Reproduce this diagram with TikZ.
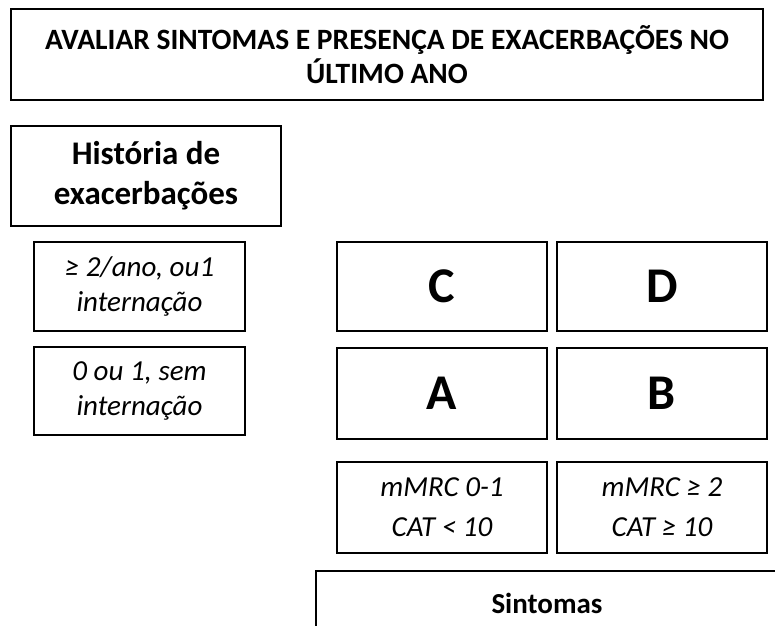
\documentclass[tikz,border=0pt]{standalone}
\usepackage{fontspec}
\setmainfont{Carlito}
\begin{document}
\begin{tikzpicture}[x=1pt,y=-1pt,
  box/.style={draw=black,line width=2pt,align=center,inner sep=0pt},
  title/.style={box,font=\fontsize{29.5}{34}\selectfont\bfseries},
  hist/.style={box,font=\fontsize{33}{40}\selectfont\bfseries},
  crit/.style={box,font=\fontsize{29}{35}\selectfont\itshape},
  grp/.style={box,font=\fontsize{50}{52}\selectfont\bfseries},
  symp/.style={box,font=\fontsize{29}{40}\selectfont\itshape},
  lbl/.style={font=\fontsize{29}{32}\selectfont\bfseries}]
\useasboundingbox (0,0) rectangle (775,625);
\clip (0,0) rectangle (775,625);
\node[title,minimum width=752pt,minimum height=91pt] (top) at (387,54.5)
  {AVALIAR SINTOMAS E PRESENÇA DE EXACERBAÇÕES NO\\ÚLTIMO ANO};
\node[hist,minimum width=270pt,minimum height=100pt] (hist) at (146,176)
  {História de\\exacerbações};
\node[crit,minimum width=211pt,minimum height=89pt] (ex1) at (139.5,286.5)
  {≥ 2/ano, ou1\\internação};
\node[crit,minimum width=211pt,minimum height=88pt] (ex0) at (139.5,391)
  {0 ou 1, sem\\internação};
\node[grp,minimum width=210pt,minimum height=89pt] (C) at (442,286.5) {C};
\node[grp,minimum width=210pt,minimum height=89pt] (D) at (662,286.5) {D};
\node[grp,minimum width=210pt,minimum height=91pt] (A) at (442,393.5) {A};
\node[grp,minimum width=210pt,minimum height=91pt] (B) at (662,393.5) {B};
\node[symp,minimum width=210pt,minimum height=91pt] (s1) at (442,507.5)
  {mMRC 0-1\\CAT < 10};
\node[symp,minimum width=210pt,minimum height=91pt] (s2) at (662,507.5)
  {mMRC ≥ 2\\CAT ≥ 10};
\coordinate (sbl) at (316,640);
\coordinate (str) at (790,571);
\draw[line width=2pt] (sbl) |- (str);
\node[lbl] (sint) at (547,603) {Sintomas};
\end{tikzpicture}
\end{document}
